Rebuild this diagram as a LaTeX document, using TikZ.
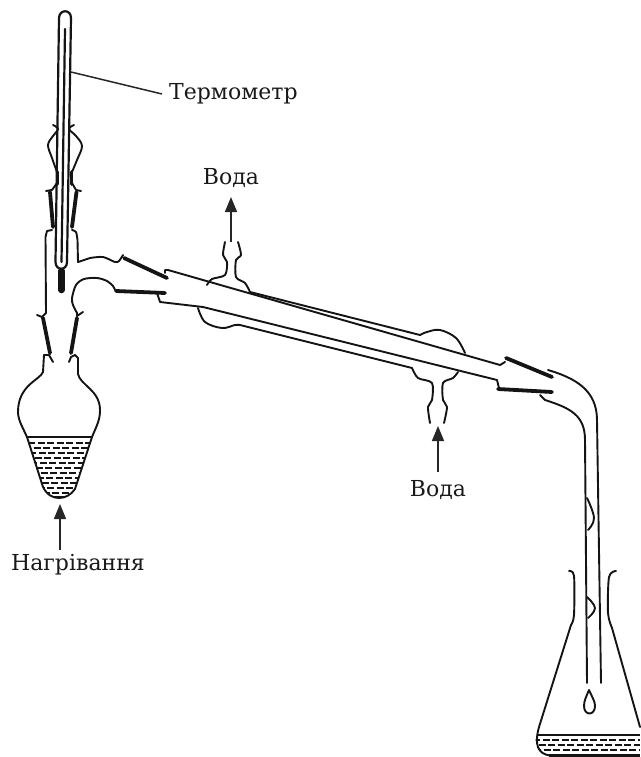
\documentclass[tikz,border=0pt]{standalone}
\usepackage{fontspec}
\setmainfont{DejaVu Serif}
\usetikzlibrary{arrows.meta}
\tikzset{
  glass/.style={line width=1.9pt,line cap=round,line join=round,black!92},
  thick joint/.style={line width=3.8pt,line cap=round,black!92},
  thin glass/.style={line width=2.2pt,line cap=round,black!92},
  arr/.style={line width=1.5pt,black!85,-{Triangle[length=15pt,width=12pt]}},
  lead/.style={line width=1.5pt,black!85},
  lbl/.style={font=\fontsize{22}{24}\selectfont,text=black!90,inner sep=0pt},
  dashrow/.style={line width=1.7pt,black!92,dash pattern=on 7pt off 2.5pt}
}
\begin{document}
\begin{tikzpicture}[x=1pt,y=-1pt]
\useasboundingbox (0,0) rectangle (640,757);
% labels
\node[lbl,anchor=west] (thermo) at (169,94) {Термометр};
\node[lbl] (waterA) at (231,178) {Вода};
\node[lbl] (waterB) at (438,490) {Вода};
\node[lbl] (heat) at (78,565) {Нагрівання};
\coordinate (thermoPt) at (71,72);
\coordinate (tipA) at (231,197);
\coordinate (tipB) at (438,426);
\coordinate (heatTail) at (60,550);
\coordinate (heatTip) at (60,504);
% connectors
\draw[lead] (thermo.west) ++(-7,0) -- (thermoPt);
\draw[arr] (231,242) -- (tipA);
\draw[arr] (438,472) -- (tipB);
\draw[arr] (heatTail) -- (heatTip);
% thermometer
\draw[thin glass] (55.5,262) -- (59,18) .. controls (59.3,9) and (71,9) .. (71,18) -- (67,262) .. controls (67,271) and (55.5,271) .. (55.5,262);
\draw[thin glass] (65,29) -- (61.5,262);
\draw[line width=6.5pt,black!92,line cap=round] (61.5,271) -- (61.5,290);
% top adapter
\draw[glass] plot[smooth,tension=.6] coordinates {(53,125) (58,129) (53,136) (48,145) (52,158) (57,172)};
\draw[glass] plot[smooth,tension=.6] coordinates {(74,125) (69,129) (76,136) (82,146) (77,160) (72,172)};
\draw[thick joint] (57.5,172) -- (57.5,184);
\draw[thick joint] (71.5,172) -- (71.5,184);
\draw[glass] (57,183) -- (52,190) -- (46,191);
\draw[glass] (72,183) -- (76,190) -- (81,191);
\draw[thick joint] (50,192) -- (53,227);
\draw[thick joint] (76.5,192) -- (72,227);
% still head
\draw[glass] (52,230) -- (47,231) -- (45.5,237) -- (46,313);
\draw[glass] plot[smooth,tension=.5] coordinates {(72,230) (76,232) (77.5,240)} -- (78,262) -- (90,258);
\draw[glass] plot[smooth,tension=.5] coordinates {(90,258) (103,257) (115,262) (119,261) (123,255)};
\draw[thick joint] (124,258) -- (167,278);
\draw[glass] (37,315) -- (42,317) -- (46,313);
\draw[glass] plot[smooth,tension=.5] coordinates {(77,313) (73,305) (72,298) (76,285) (84,279) (97,278) (107,281) (113,286) (115,290)};
\draw[thick joint] (116,291) -- (165,293);
\draw[glass] (83,312) -- (77,316) -- (77,313);
% lower joint
\draw[thick joint] (43,318) -- (50,353);
\draw[thick joint] (77,318) -- (71,353);
% boiling flask
\draw[glass] (53,362) -- (49,355) -- (44,355);
\draw[glass] (44,355) -- (43,372) .. controls (40,380) and (18,385) .. (18,412) .. controls (18,420) and (23,428) .. (27,437)
  -- (43,487) .. controls (47,495) and (53,498) .. (59,498) .. controls (65,498) and (71,495) .. (75,489)
  -- (92,437) .. controls (97,425) and (100,420) .. (100,410) .. controls (100,390) and (80,385) .. (78,374) -- (78,358) -- (75,355);
\draw[glass] (75,355) -- (71,357) -- (69,362);
\draw[line width=2.2pt,black!92] (27,437) -- (92,437);
\begin{scope}
  \clip (27,437) -- (43,487) .. controls (47,495) and (53,498) .. (59,498) .. controls (65,498) and (71,495) .. (75,489) -- (92,437) -- cycle;
  \foreach \yy/\xo in {443/28,448/24,453/29,458/25,463/30,468/26,473/31,478/27,483/32,488/28,493/33}
    \draw[dashrow] (\xo,\yy) -- (100,\yy);
  \draw[line width=2pt,black!92] (40,497) -- (80,497);
\end{scope}
% condenser inner tube
\draw[glass] (165,273) -- (165,270) -- (168,270) -- (500,365) -- (505,362);
\draw[glass] (157,293) -- (160,302) -- (203,307) -- (497,380) -- (499,388);
% jacket
\draw[glass] (250,292) -- (420,335);
\draw[glass] (240,325) -- (412,368);
\draw[glass] plot[smooth,tension=.5] coordinates {(207,285) (212,279) (225,275) (227,262) (223,255) (225,242)};
\draw[glass] plot[smooth,tension=.5] coordinates {(250,292) (245,283) (236,277) (236,260) (241,255) (238,242)};
\draw[glass] plot[smooth,tension=.6] coordinates {(198,308) (205,322) (222,328) (235,325) (240,325)};
\draw[glass] plot[smooth,tension=.6] coordinates {(420,335) (427,332) (440,330) (456,338) (465,353)};
\draw[glass] plot[smooth,tension=.5] coordinates {(412,368) (418,378) (432,383) (432,400) (428,407) (430,423)};
\draw[glass] plot[smooth,tension=.5] coordinates {(458,372) (453,378) (443,383) (443,400) (447,407) (444,423)};
% right joint
\draw[thick joint] (506,358) -- (552,377);
\draw[thick joint] (498,389) -- (552,392);
% outlet tube
\draw[glass] (548,370) .. controls (575,378) and (597,390) .. (597,420) -- (601,683);
\draw[glass] (540,395) -- (545,400) .. controls (570,408) and (585,415) .. (585,440) -- (587,683);
% drops
\draw[glass] plot[smooth,tension=.7] coordinates {(587,498) (594,518) (588,530)};
\draw[glass] plot[smooth,tension=.7] coordinates {(587,597) (595,608) (588,618)};
\draw[glass] (589,690) .. controls (586,697) and (584,701) .. (584,706) .. controls (584,716) and (595,716) .. (595,706) .. controls (595,701) and (592,697) .. (589,690);
% receiving flask
\draw[glass] plot[smooth,tension=.5] coordinates {(569,571) (574,576) (574,615) (571,625)};
\draw[glass] (571,625) -- (539,727) .. controls (534,745) and (538,754) .. (550,755.5);
\draw[glass] plot[smooth,tension=.5] coordinates {(616,571) (609,577) (608,613) (612,628)};
\draw[glass] (612,628) -- (640,727);
\draw[line width=2.2pt,black!92] (537,735) -- (640,735);
\draw[line width=2.2pt,black!92] (549,755.5) -- (640,755.5);
\begin{scope}
  \clip (536,735) .. controls (534,745) and (538,754) .. (550,756) -- (640,756) -- (640,735) -- cycle;
  \foreach \yy/\xo in {740/533,745/529,750/534}
    \draw[dashrow] (\xo,\yy) -- (640,\yy);
\end{scope}
\end{tikzpicture}
\end{document}
